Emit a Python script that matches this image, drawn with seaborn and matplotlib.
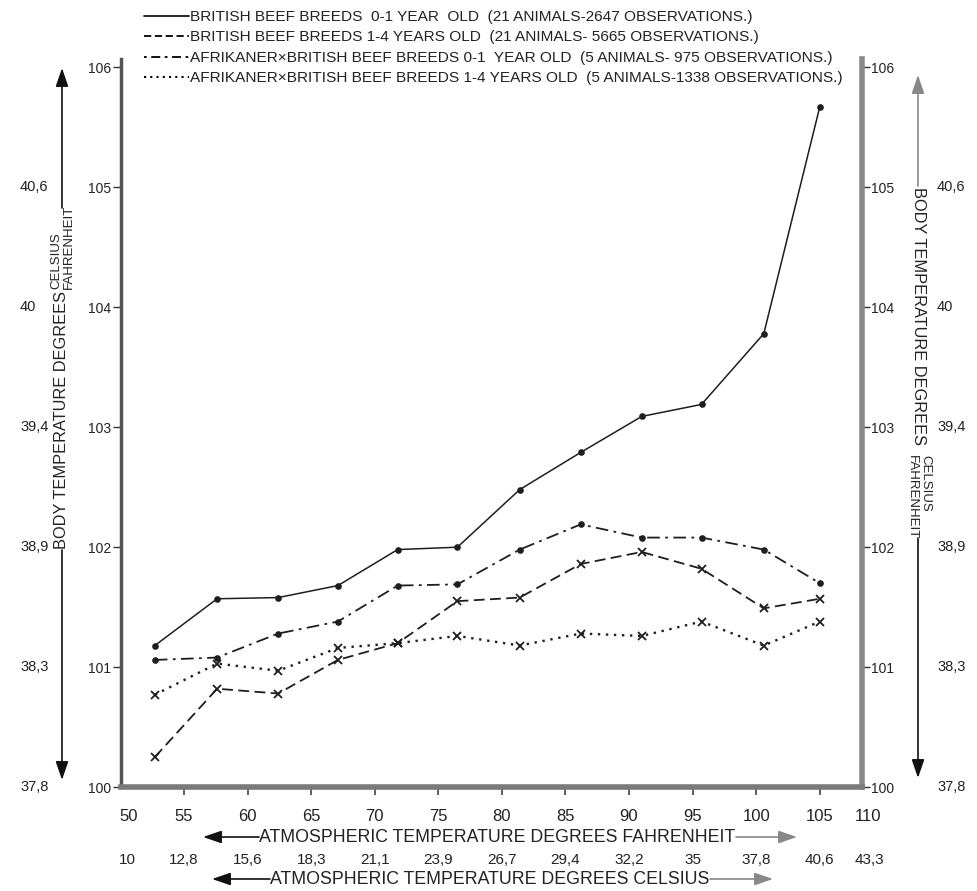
import numpy as np
import pandas as pd
import matplotlib
matplotlib.use("Agg")
import matplotlib.pyplot as plt
import seaborn as sns
from matplotlib import font_manager
from matplotlib.lines import Line2D
from matplotlib.patches import FancyArrowPatch
import matplotlib.transforms as mtransforms

# ---------------- data ----------------
air_temp_f = [52.7, 57.6, 62.4, 67.1, 71.8, 76.5, 81.4, 86.2, 91.0, 95.7, 100.6, 105.0]
british_0_1 = [101.18, 101.57, 101.58, 101.68, 101.98, 102.00, 102.48, 102.79, 103.09, 103.19, 103.78, 105.67]
british_1_4 = [100.25, 100.82, 100.78, 101.06, 101.20, 101.55, 101.58, 101.86, 101.96, 101.82, 101.49, 101.57]
afrikaner_0_1 = [101.06, 101.08, 101.28, 101.38, 101.68, 101.69, 101.98, 102.19, 102.08, 102.08, 101.98, 101.70]
afrikaner_1_4 = [100.77, 101.03, 100.97, 101.16, 101.20, 101.26, 101.18, 101.28, 101.26, 101.38, 101.18, 101.38]

series_labels = [
    "BRITISH BEEF BREEDS  0-1 YEAR  OLD  (21 ANIMALS-2647 OBSERVATIONS.)",
    "BRITISH BEEF BREEDS 1-4 YEARS OLD  (21 ANIMALS- 5665 OBSERVATIONS.)",
    "AFRIKANER\u00d7BRITISH BEEF BREEDS 0-1  YEAR OLD  (5 ANIMALS- 975 OBSERVATIONS.)",
    "AFRIKANER\u00d7BRITISH BEEF BREEDS 1-4 YEARS OLD  (5 ANIMALS-1338 OBSERVATIONS.)",
]

x_ticks_f = [50, 55, 60, 65, 70, 75, 80, 85, 90, 95, 100, 105]
x_end_f = 108.3
x_labels_f = ["50", "55", "60", "65", "70", "75", "80", "85", "90", "95", "100", "105", "110"]
x_labels_c = ["10", "12,8", "15,6", "18,3", "21,1", "23,9", "26,7", "29,4", "32,2", "35",
              "37,8", "40,6", "43,3"]
y_ticks_f = [100, 101, 102, 103, 104, 105, 106]
y_labels_f = ["100", "101", "102", "103", "104", "105", "106"]
y_labels_c = ["37,8", "38,3", "38,9", "39,4", "40", "40,6"]

# ---------------- style ----------------
sns.set_theme(style="white")
names = {f.name for f in font_manager.fontManager.ttflist}
BASE = "Liberation Sans" if "Liberation Sans" in names else "DejaVu Sans"
plt.rcParams["font.family"] = [BASE, "DejaVu Sans"]

W, H = 977, 891
fig = plt.figure(figsize=(W / 100, H / 100), dpi=100)
fig.patch.set_facecolor("white")

def fx(x):
    return x / W

def fy(y):
    return 1 - y / H

ax_left, ax_right, ax_bottom, ax_top = 120.5, 861.7, 787.1, 59.0
ax = fig.add_axes([fx(ax_left), fy(ax_bottom), (ax_right - ax_left) / W, (ax_bottom - ax_top) / H])
ax.set_facecolor("white")
ymax = 100 + (ax_bottom - ax_top) / 119.96
ax.set_xlim(50, x_end_f)
ax.set_ylim(100, ymax)

# ---------------- lines ----------------
INK = "#1e1e1e"
sns.lineplot(x=air_temp_f, y=british_0_1, ax=ax, color=INK, lw=1.1,
             marker="o", markersize=4.8, markeredgewidth=0, linestyle="-", sort=False)
sns.lineplot(x=air_temp_f, y=british_1_4, ax=ax, color=INK, lw=1.3,
             marker="x", markersize=5.5, markeredgewidth=1.3, markeredgecolor=INK,
             linestyle=(0, (6, 3)), sort=False)
sns.lineplot(x=air_temp_f, y=afrikaner_0_1, ax=ax, color=INK, lw=1.3,
             marker="o", markersize=4.8, markeredgewidth=0, linestyle=(0, (7, 3, 1.5, 3)), sort=False)
sns.lineplot(x=air_temp_f, y=afrikaner_1_4, ax=ax, color=INK, lw=1.7,
             marker="x", markersize=5.5, markeredgewidth=1.3, markeredgecolor=INK,
             linestyle=(0, (1, 2.4)), sort=False)

# ---------------- spines & ticks ----------------
ax.spines["top"].set_visible(False)
ax.spines["left"].set_color("#555555")
ax.spines["left"].set_linewidth(2.5)
ax.spines["right"].set_color("#8a8a8a")
ax.spines["right"].set_linewidth(4)
ax.spines["bottom"].set_color("#7a7a7a")
ax.spines["bottom"].set_linewidth(4)

ax.set_yticks(y_ticks_f)
ax.set_yticklabels(y_labels_f)
ax.tick_params(axis="y", left=True, right=True, labelleft=True, labelright=True,
               direction="out", length=6, width=1, color="#333333", labelsize=10, pad=1,
               labelcolor="#222222")

ax.set_xticks(x_ticks_f + [x_end_f])
ax.set_xticklabels(x_labels_f)
ax.tick_params(axis="x", bottom=True, direction="out", length=6, width=1.2, color="#444444",
               labelsize=12, pad=10, labelcolor="#222222")
xt = ax.xaxis.get_major_ticks()
xt[0].tick1line.set_visible(False)
xt[-1].tick1line.set_visible(False)
lbls = ax.get_xticklabels()
lbls[0].set_transform(lbls[0].get_transform() + mtransforms.ScaledTranslation(8 / 100, 0, fig.dpi_scale_trans))
lbls[-1].set_transform(lbls[-1].get_transform() + mtransforms.ScaledTranslation(6 / 100, 0, fig.dpi_scale_trans))
ax.set_xlabel("")
ax.set_ylabel("")

# Celsius x labels
trans_xc = mtransforms.blended_transform_factory(ax.transData, fig.transFigure)
for i, lab in enumerate(x_labels_c):
    xv = (x_ticks_f + [x_end_f])[i]
    off = 7 if i == 0 else (8 if i == len(x_labels_c) - 1 else 0)
    ax.text(xv, fy(860), lab, transform=trans_xc + mtransforms.ScaledTranslation(off / 100, 0, fig.dpi_scale_trans),
            ha="center", va="center", fontsize=11, color="#222222")

# Celsius y labels
trans_yl = mtransforms.blended_transform_factory(fig.transFigure, ax.transData)
for i, lab in enumerate(y_labels_c):
    yv = y_ticks_f[i]
    ax.text(fx(20), yv, lab, transform=trans_yl, ha="left", va="center", fontsize=10.5, color="#222222")
    ax.text(fx(937), yv, lab, transform=trans_yl, ha="left", va="center", fontsize=10.5, color="#222222")

# ---------------- axis titles with arrows ----------------
def arrow(x0, y0, x1, y1, color="#111111"):
    p = FancyArrowPatch((fx(x0), fy(y0)), (fx(x1), fy(y1)), transform=fig.transFigure,
                        arrowstyle="-|>,head_length=7,head_width=2.4", color=color, lw=1.2,
                        shrinkA=0, shrinkB=0, mutation_scale=1.6)
    fig.add_artist(p)

TITLE_FS = 12.8
# Fahrenheit x-title
fig.text(fx(497), fy(837), "ATMOSPHERIC TEMPERATURE DEGREES FAHRENHEIT", ha="center", va="center",
         fontsize=TITLE_FS, color="#222222")
arrow(259, 837, 203, 837)
arrow(736, 837, 797, 837, color="#888888")
# Celsius x-title
fig.text(fx(490), fy(879), "ATMOSPHERIC TEMPERATURE DEGREES CELSIUS", ha="center", va="center",
         fontsize=TITLE_FS, color="#222222")
arrow(270, 879, 212, 879)
arrow(710, 879, 773, 879, color="#888888")

# Left y-title (reads bottom to top)
Y_FS = 11.8
fig.text(fx(62), fy(549), "BODY TEMPERATURE DEGREES", rotation=90, rotation_mode="anchor",
         ha="left", va="center", fontsize=Y_FS, color="#222222")
fig.text(fx(56), fy(289), "CELSIUS", rotation=90, rotation_mode="anchor",
         ha="left", va="center", fontsize=9.5, color="#222222")
fig.text(fx(68.5), fy(289), "FAHRENHEIT", rotation=90, rotation_mode="anchor",
         ha="left", va="center", fontsize=9.5, color="#222222")
arrow(62, 208, 62, 68)
arrow(62, 550, 62, 780)

# Right y-title (reads top to bottom)
fig.text(fx(918), fy(187), "BODY TEMPERATURE DEGREES", rotation=-90, rotation_mode="anchor",
         ha="left", va="center", fontsize=Y_FS, color="#222222")
fig.text(fx(925), fy(455), "CELSIUS", rotation=-90, rotation_mode="anchor",
         ha="left", va="center", fontsize=9.5, color="#222222")
fig.text(fx(911.5), fy(455), "FAHRENHEIT", rotation=-90, rotation_mode="anchor",
         ha="left", va="center", fontsize=9.5, color="#222222")
arrow(918, 186, 918, 75, color="#888888")
arrow(918, 538, 918, 778)

# ---------------- legend ----------------
handles = [
    Line2D([], [], color="black", lw=1.2, linestyle="-"),
    Line2D([], [], color="black", lw=1.3, linestyle=(0, (4, 2))),
    Line2D([], [], color="black", lw=1.3, linestyle=(0, (1.5, 2.5, 5, 2.5))),
    Line2D([], [], color="black", lw=1.5, linestyle=(0, (1, 2))),
]
leg = ax.legend(handles, series_labels, loc="upper left", bbox_to_anchor=(fx(144), fy(10)),
                bbox_transform=fig.transFigure, frameon=False, fontsize=11.1,
                handlelength=2.9, handletextpad=0.1, labelspacing=0.42, borderpad=0,
                borderaxespad=0)
for t in leg.get_texts():
    t.set_color("#222222")

fig.savefig("out.png", dpi=100, facecolor="white")
